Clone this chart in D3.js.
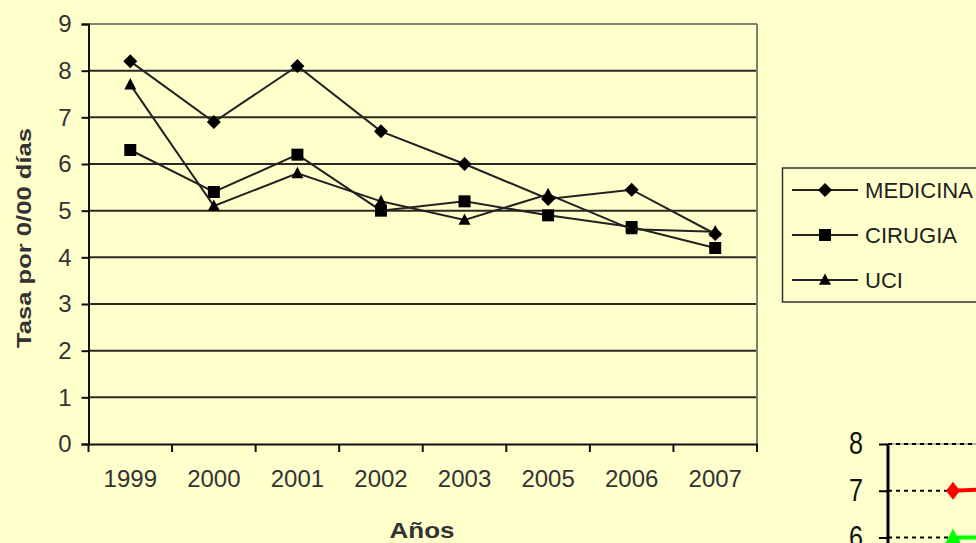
<!DOCTYPE html>
<html lang="es">
  <head>
    <meta charset="UTF-8" />
    <title>Tasa por 0/00 días</title>
    <style>
      html, body { margin: 0; padding: 0; background: #ffffcc; }
      svg { display: block; }
    </style>
  </head>
  <body>
    <svg width="976" height="543"></svg>
    <script src="https://cdn.jsdelivr.net/npm/d3@7"></script>
    <script>
      // datos
      const years = ["1999", "2000", "2001", "2002", "2003", "2005", "2006", "2007"];
      const medicina = [8.2, 6.9, 8.1, 6.7, 6.0, 5.25, 5.45, 4.5];
      const cirugia = [6.3, 5.4, 6.2, 5.0, 5.2, 4.9, 4.65, 4.2];
      const uci = [7.7, 5.1, 5.8, 5.2, 4.8, 5.35, 4.6, 4.55];
      const yTicks = [0, 1, 2, 3, 4, 5, 6, 7, 8, 9];
      const seriesNames = ["MEDICINA", "CIRUGIA", "UCI"];
      const seriesShapes = ["diamond", "square", "triangle"];

      // segundo grafico, cortado en la esquina
      const cats2 = ["a", "b"];
      const rojo = [7.0, 7.1];
      const verde = [6.0, 6.0];
      const yTicks2 = [6, 7, 8];

      const svg = d3.select("svg");
      const font = "Arial, 'Liberation Sans', sans-serif";

      const x = d3.scaleBand().domain(years).range([88.5, 757]);
      const y = d3.scaleLinear().domain([0, 9]).range([444, 24]);

      function shapePath(kind, r) {
        if (kind === "diamond") return `M0,${-r}L${r},0L0,${r}L${-r},0Z`;
        if (kind === "square") return `M${-r},${-r}H${r}V${r}H${-r}Z`;
        return `M0,${-r * 1.1}L${r},${r * 0.8}L${-r},${r * 0.8}Z`;
      }

      // lineas de cuadricula
      const grid = svg.append("g");
      grid.selectAll("line")
        .data(yTicks.filter(d => d > 0))
        .join("line")
        .attr("x1", 88.5)
        .attr("x2", 757)
        .attr("y1", d => y(d))
        .attr("y2", d => y(d))
        .attr("stroke", d => (d === 9 ? "#808070" : "#2a2a22"))
        .attr("stroke-width", 2);
      grid.append("line")
        .attr("x1", 757).attr("x2", 757)
        .attr("y1", y(9)).attr("y2", y(0))
        .attr("stroke", "#808070").attr("stroke-width", 2);

      // eje y
      const yAxis = svg.append("g")
        .attr("transform", "translate(88.5,0)")
        .call(d3.axisLeft(y).tickValues(yTicks).tickSize(7).tickPadding(10));
      yAxis.select(".domain").attr("stroke", "#111").attr("stroke-width", 2);
      yAxis.selectAll(".tick line").attr("stroke", "#111").attr("stroke-width", 2);
      yAxis.selectAll("text")
        .attr("font-family", font)
        .attr("font-size", 24)
        .attr("fill", "#333");

      // eje x
      const xAxis = svg.append("g")
        .attr("transform", `translate(0,${y(0)})`)
        .call(d3.axisBottom(x).tickSize(0).tickPadding(26));
      xAxis.select(".domain").attr("stroke", "#111").attr("stroke-width", 2);
      xAxis.selectAll("text")
        .attr("font-family", font)
        .attr("font-size", 24)
        .attr("fill", "#333");
      // marcas entre categorias
      svg.append("g")
        .selectAll("line")
        .data(years.concat(["fin"]))
        .join("line")
        .attr("x1", (d, i) => (i < years.length ? x(d) : x(years[years.length - 1]) + x.bandwidth()))
        .attr("x2", (d, i) => (i < years.length ? x(d) : x(years[years.length - 1]) + x.bandwidth()))
        .attr("y1", y(0))
        .attr("y2", y(0) + 8)
        .attr("stroke", "#111")
        .attr("stroke-width", 2);

      // series
      const allSeries = [medicina, cirugia, uci];
      const line = d3.line()
        .x((d, i) => x(years[i]) + x.bandwidth() / 2)
        .y(d => y(d));

      allSeries.forEach((vals, k) => {
        const g = svg.append("g");
        g.append("path")
          .attr("d", line(vals))
          .attr("fill", "none")
          .attr("stroke", "#222")
          .attr("stroke-width", 2);
        g.selectAll("path.m")
          .data(vals)
          .join("path")
          .attr("class", "m")
          .attr("transform", (d, i) => `translate(${x(years[i]) + x.bandwidth() / 2},${y(d)})`)
          .attr("d", shapePath(seriesShapes[k], seriesShapes[k] === "diamond" ? 7 : 6))
          .attr("fill", "#000");
      });

      // leyenda
      const legend = svg.append("g");
      legend.append("rect")
        .attr("x", 782.5).attr("y", 168)
        .attr("width", 220).attr("height", 134)
        .attr("fill", "none")
        .attr("stroke", "#333")
        .attr("stroke-width", 1.5);
      const legendLens = [108, 92, 38];
      seriesNames.forEach((name, k) => {
        const ly = 190 + k * 45;
        legend.append("line")
          .attr("x1", 792).attr("x2", 858)
          .attr("y1", ly).attr("y2", ly)
          .attr("stroke", "#222").attr("stroke-width", 1.8);
        legend.append("path")
          .attr("transform", `translate(825,${ly})`)
          .attr("d", shapePath(seriesShapes[k], seriesShapes[k] === "diamond" ? 7 : 6))
          .attr("fill", "#000");
        legend.append("text")
          .attr("x", 865).attr("y", ly + 8)
          .attr("font-family", font)
          .attr("font-size", 22)
          .attr("fill", "#222")
          .attr("textLength", legendLens[k])
          .attr("lengthAdjust", "spacingAndGlyphs")
          .text(name);
      });

      // titulos de ejes
      svg.append("text")
        .attr("transform", "translate(31,238) rotate(-90)")
        .attr("text-anchor", "middle")
        .attr("font-family", font)
        .attr("font-weight", "bold")
        .attr("font-size", 21)
        .attr("fill", "#333")
        .attr("textLength", 220)
        .attr("lengthAdjust", "spacingAndGlyphs")
        .text("Tasa por 0/00 días");

      svg.append("text")
        .attr("x", 422).attr("y", 538)
        .attr("text-anchor", "middle")
        .attr("font-family", font)
        .attr("font-weight", "bold")
        .attr("font-size", 22)
        .attr("fill", "#333")
        .attr("textLength", 65)
        .attr("lengthAdjust", "spacingAndGlyphs")
        .text("Años");

      // segundo grafico (esquina inferior derecha)
      const y2 = d3.scaleLinear().domain([6, 8]).range([537.5, 444]);
      const x2 = d3.scalePoint().domain(cats2).range([953, 1060]);
      const g2 = svg.append("g");
      g2.append("line")
        .attr("x1", 888).attr("x2", 976)
        .attr("y1", y2(8)).attr("y2", y2(8))
        .attr("stroke", "#999").attr("stroke-width", 1.5);
      g2.selectAll("line.grid")
        .data(yTicks2)
        .join("line")
        .attr("class", "grid")
        .attr("x1", 888).attr("x2", 976)
        .attr("y1", d => y2(d)).attr("y2", d => y2(d))
        .attr("stroke", "#000")
        .attr("stroke-width", 2)
        .attr("stroke-dasharray", "4,4");
      const ax2 = g2.append("g")
        .attr("transform", "translate(888,0)")
        .call(d3.axisLeft(y2).tickValues(yTicks2).tickFormat(d3.format("d"))
          .tickSize(9).tickPadding(16).tickSizeOuter(0));
      ax2.select(".domain").attr("d", `M0,${y2(8)}V${543 + 10}`).attr("stroke", "#000").attr("stroke-width", 3);
      ax2.selectAll(".tick line").attr("stroke", "#000").attr("stroke-width", 2);
      ax2.selectAll("text")
        .attr("font-family", font)
        .attr("font-size", 31)
        .attr("fill", "#111")
        .attr("textLength", 14)
        .attr("lengthAdjust", "spacingAndGlyphs");

      const line2 = d3.line().x((d, i) => x2(cats2[i])).y(d => y2(d));
      [[rojo, "#ff0000", "diamond"], [verde, "#00ff00", "triangle"]].forEach(([vals, col, shp]) => {
        g2.append("path")
          .attr("d", line2(vals))
          .attr("fill", "none")
          .attr("stroke", col)
          .attr("stroke-width", 4);
        g2.selectAll(null)
          .data(vals)
          .join("path")
          .attr("transform", (d, i) => `translate(${x2(cats2[i])},${y2(d)})`)
          .attr("d", shp === "diamond" ? `M0,-9L7,0L0,9L-7,0Z` : shapePath("triangle", 8))
          .attr("fill", col);
      });
    </script>
  </body>
</html>
